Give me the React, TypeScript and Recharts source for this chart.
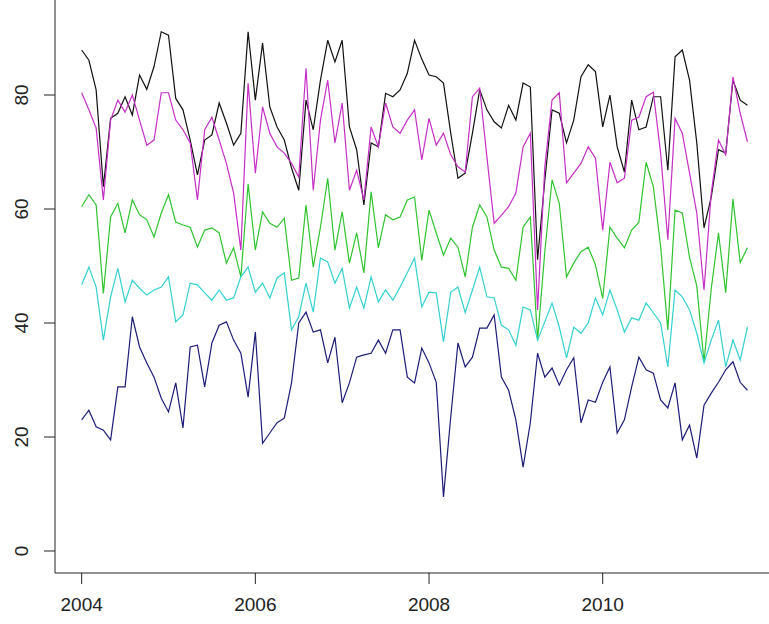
import React from "react";
import { LineChart, Line, XAxis, YAxis } from "recharts";

// monthly series, Jan 2004 .. Sep 2011
const startYear = 2004;

const blackSeries = [
  87.9, 86.1, 80.9, 63.9, 75.9, 76.8, 79.7, 76.5, 83.5, 81.0, 85.0, 91.1,
  90.5, 79.4, 77.4, 72.1, 66.0, 72.1, 73.0, 78.6, 75.1, 71.2, 73.3, 91.1,
  79.1, 89.1, 77.9, 74.4, 72.1, 67.2, 63.3, 79.1, 73.9, 82.6, 89.6, 85.8,
  89.6, 74.4, 70.4, 60.7, 71.6, 70.9, 80.3, 79.7, 80.9, 83.8, 89.6, 86.3,
  83.5, 83.2, 82.1, 73.3, 65.4, 66.3, 73.3, 80.9, 77.4, 75.3, 74.2, 78.2,
  75.6, 82.1, 81.4, 51.1, 65.0, 77.4, 76.8, 71.6, 75.6, 83.2, 85.3, 84.1,
  74.4, 80.0, 70.9, 66.5, 79.1, 73.9, 74.4, 79.7, 79.7, 66.8, 86.7, 87.9,
  82.6, 71.6, 56.7, 62.1, 70.4, 69.8, 82.6, 79.1, 78.2,
];

const magentaSeries = [
  80.4, 77.4, 74.2, 61.6, 75.6, 79.1, 77.0, 80.0, 75.6, 71.2, 72.1, 80.4,
  80.4, 75.6, 73.9, 71.6, 61.6, 73.9, 76.1, 72.1, 68.0, 62.8, 52.8, 82.1,
  66.3, 77.9, 73.3, 70.9, 69.8, 68.0, 65.6, 84.7, 63.3, 75.6, 82.6, 71.6,
  78.6, 63.3, 66.8, 61.6, 74.4, 70.9, 78.6, 74.4, 73.3, 75.6, 77.4, 68.6,
  75.9, 71.2, 73.3, 69.5, 67.4, 66.5, 79.7, 81.2, 69.1, 57.5, 58.9, 60.4,
  62.8, 70.9, 73.3, 42.3, 67.4, 79.1, 80.4, 64.6, 66.3, 68.0, 70.9, 68.9,
  56.3, 68.2, 64.6, 65.4, 75.6, 76.1, 79.7, 80.5, 69.8, 54.6, 75.9, 73.3,
  66.3, 59.3, 45.8, 62.8, 72.1, 69.5, 83.2, 76.8, 71.8,
];

const greenSeries = [
  60.4, 62.5, 60.7, 45.2, 58.6, 61.0, 55.8, 61.6, 59.0, 58.1, 55.1, 59.3,
  62.5, 57.7, 57.2, 56.8, 53.3, 56.3, 56.7, 55.8, 50.5, 53.2, 48.1, 64.4,
  52.8, 59.5, 57.5, 56.8, 58.4, 47.5, 47.9, 60.7, 49.8, 56.8, 65.4, 52.8,
  59.5, 50.5, 55.8, 48.8, 63.0, 53.2, 59.0, 58.1, 58.6, 61.6, 62.1, 51.0,
  59.8, 55.8, 51.9, 54.9, 53.3, 48.1, 56.8, 60.7, 58.6, 52.8, 49.8, 49.6,
  47.5, 56.8, 58.6, 37.0, 52.5, 65.1, 61.0, 48.1, 50.5, 52.5, 53.3, 50.2,
  44.3, 56.8, 54.9, 53.2, 56.3, 57.7, 68.2, 63.9, 53.5, 38.8, 59.8, 59.3,
  51.5, 46.5, 33.2, 46.0, 55.8, 45.3, 61.8, 50.6, 53.2,
];

const cyanSeries = [
  46.7, 49.8, 46.3, 37.0, 44.6, 49.6, 43.7, 47.5, 46.1, 44.9, 45.8, 46.3,
  48.1, 40.2, 41.4, 47.0, 46.7, 45.3, 44.0, 45.8, 44.0, 44.4, 48.1, 49.8,
  45.4, 47.0, 44.4, 47.9, 48.8, 38.8, 41.1, 47.0, 41.9, 51.4, 50.7, 47.0,
  49.6, 42.6, 46.3, 42.6, 48.1, 43.7, 45.8, 44.0, 46.3, 48.8, 51.4, 42.8,
  45.4, 45.3, 36.7, 45.4, 46.3, 41.8, 45.8, 49.8, 44.6, 44.4, 39.6, 38.8,
  36.1, 42.8, 42.3, 37.0, 40.2, 43.5, 39.3, 33.9, 39.3, 38.2, 40.0, 44.4,
  41.4, 45.8, 42.3, 38.4, 40.9, 40.5, 43.5, 41.8, 40.0, 32.3, 45.8, 44.6,
  42.3, 38.2, 33.0, 37.0, 40.5, 32.3, 37.0, 33.5, 39.3,
];

const navySeries = [
  23.0, 24.7, 21.8, 21.2, 19.5, 28.8, 28.8, 41.1, 35.8, 33.0, 30.5, 26.8,
  24.4, 29.5, 21.6, 35.8, 36.1, 28.8, 36.5, 39.6, 40.2, 37.0, 34.7, 27.0,
  38.4, 18.9, 20.7, 22.5, 23.3, 29.5, 40.0, 41.9, 38.4, 38.8, 33.0, 37.5,
  26.0, 29.5, 34.0, 34.4, 34.7, 37.0, 34.7, 38.8, 38.8, 30.5, 29.5, 35.6,
  33.0, 29.6, 9.5, 23.5, 36.5, 32.3, 34.0, 39.1, 39.1, 41.4, 30.5, 28.2,
  23.0, 14.7, 22.5, 34.7, 30.5, 32.1, 29.1, 31.8, 33.9, 22.5, 26.5, 26.1,
  29.6, 32.3, 20.7, 23.0, 28.8, 34.0, 31.8, 31.2, 26.5, 25.1, 29.5, 19.5,
  22.1, 16.3, 25.6, 27.7, 29.6, 31.8, 33.2, 29.6, 28.2,
];

const xTicks = [2004, 2006, 2008, 2010];
const yTicks = [0, 20, 40, 60, 80];

const data = blackSeries.map((v, i) => ({
  t: startYear + i / 12,
  black: v,
  magenta: magentaSeries[i],
  green: greenSeries[i],
  cyan: cyanSeries[i],
  navy: navySeries[i],
}));

const font = "'Liberation Sans', Arial, sans-serif";

// R-style y labels, parallel to the axis
function YTick(props: any) {
  const { x, y, payload } = props;
  return (
    <text
      x={x}
      y={y}
      transform={`rotate(-90, ${x}, ${y})`}
      textAnchor="middle"
      fontSize={19}
      fontFamily={font}
      fill="#222"
    >
      {payload.value}
    </text>
  );
}

export default function App() {
  return (
    <div style={{ position: "absolute", left: 0, top: 0, background: "#fff" }}>
      <LineChart width={769} height={624} data={data} margin={{ top: 0, right: 0, bottom: 0, left: 0 }}>
        <XAxis
          dataKey="t"
          type="number"
          domain={[2003.693, 2011.915]}
          allowDataOverflow
          ticks={xTicks}
          height={51}
          tickSize={11}
          tickMargin={14}
          stroke="#222"
          tick={{ fontSize: 19, fontFamily: font, fill: "#222" }}
        />
        <YAxis
          type="number"
          domain={[-3.86, 96.67]}
          allowDataOverflow
          ticks={yTicks}
          width={55}
          tickSize={11}
          tickMargin={16}
          stroke="#222"
          tick={<YTick />}
        />
        <Line type="linear" dataKey="black" stroke="#111111" strokeWidth={1.2} dot={false} isAnimationActive={false} />
        <Line type="linear" dataKey="magenta" stroke="#c62ec6" strokeWidth={1.2} dot={false} isAnimationActive={false} />
        <Line type="linear" dataKey="green" stroke="#2ec42e" strokeWidth={1.2} dot={false} isAnimationActive={false} />
        <Line type="linear" dataKey="cyan" stroke="#33d0d0" strokeWidth={1.2} dot={false} isAnimationActive={false} />
        <Line type="linear" dataKey="navy" stroke="#1c1c78" strokeWidth={1.2} dot={false} isAnimationActive={false} />
      </LineChart>
    </div>
  );
}
